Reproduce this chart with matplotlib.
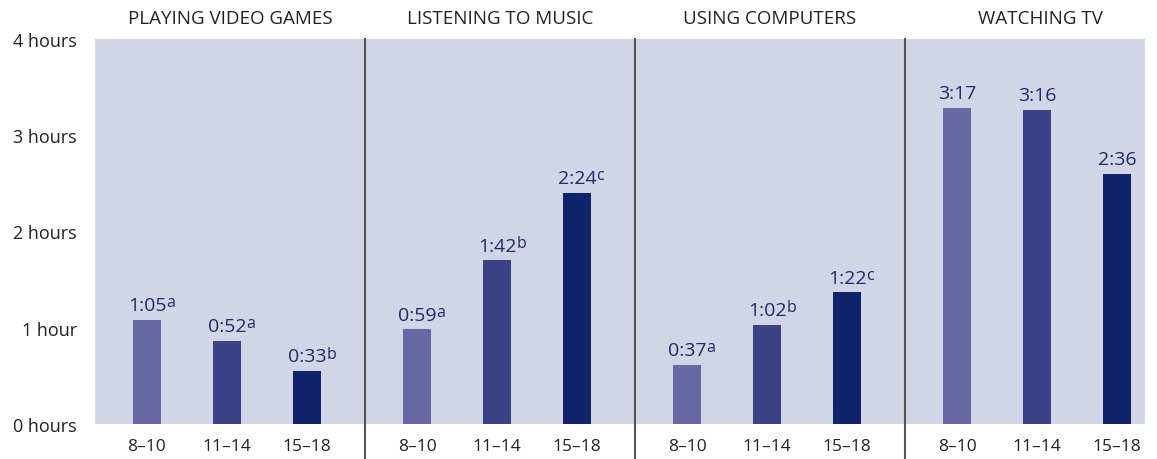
import matplotlib
matplotlib.use("Agg")
import matplotlib.pyplot as plt

plt.rcParams['font.family'] = ['Open Sans', 'DejaVu Sans']

activities = ["PLAYING VIDEO GAMES", "LISTENING TO MUSIC", "USING COMPUTERS", "WATCHING TV"]
age_groups = ["8\u201310", "11\u201314", "15\u201318"]

# minutes per day, by activity then age group
video_games = [65, 52, 33]
music = [59, 102, 144]
computers = [37, 62, 82]
tv = [197, 196, 156]

# significance letters printed next to each value
video_games_sig = ["a", "a", "b"]
music_sig = ["a", "b", "c"]
computers_sig = ["a", "b", "c"]
tv_sig = ["", "", ""]

y_ticks = [0, 1, 2, 3, 4]
y_tick_labels = ["0 hours", "1 hour", "2 hours", "3 hours", "4 hours"]

series = [video_games, music, computers, tv]
sig = [video_games_sig, music_sig, computers_sig, tv_sig]

bar_colors = ["#6669a3", "#3a4285", "#0f246b"]
bg_color = "#d2d5e5"
label_color = "#1f2a6b"
text_color = "#222222"

fig = plt.figure(figsize=(11.57, 4.6), dpi=100)
ax = fig.add_axes([95 / 1157, 35 / 460, 1050 / 1157, 385 / 460])
ax.set_facecolor(bg_color)

panel_w = 3.375
offset = 0.65
bar_w = 0.36

def fmt(m):
    return "%d:%02d" % (m // 60, m % 60)

xt, xl = [], []
for g, vals in enumerate(series):
    start = g * panel_w
    for i, m in enumerate(vals):
        x = start + offset + i
        h = m / 60.0
        ax.bar(x, h, width=bar_w, color=bar_colors[i], zorder=2)
        t = ax.text(x, h + 0.1, fmt(m), ha="center", va="baseline",
                    fontsize=14, color=label_color)
        if sig[g][i]:
            # superscript letter hangs off the right edge of the value
            ax.annotate(sig[g][i], xy=(1.0, 0.44), xycoords=t, ha="left",
                        va="baseline", fontsize=11.5, color=label_color)
        xt.append(x)
        xl.append(age_groups[i])
    ax.text(start + panel_w / 2, 4.12, activities[g], ha="center", va="bottom",
            fontsize=13.5, color=text_color)
    if g > 0:
        ax.plot([start, start], [4, -0.35], color="#555555", lw=1.5,
                clip_on=False, zorder=3)

ax.set_xlim(0, 1050 / 80)
ax.set_ylim(0, 4)
ax.set_xticks(xt)
ax.set_xticklabels(xl, fontsize=12.5, color=text_color)
ax.set_yticks(y_ticks)
ax.set_yticklabels(y_tick_labels, fontsize=13, color=text_color)
ax.tick_params(length=0)
ax.tick_params(axis="x", pad=10)
ax.tick_params(axis="y", pad=13)
for sp in ax.spines.values():
    sp.set_visible(False)

fig.savefig("out.png", dpi=100)
